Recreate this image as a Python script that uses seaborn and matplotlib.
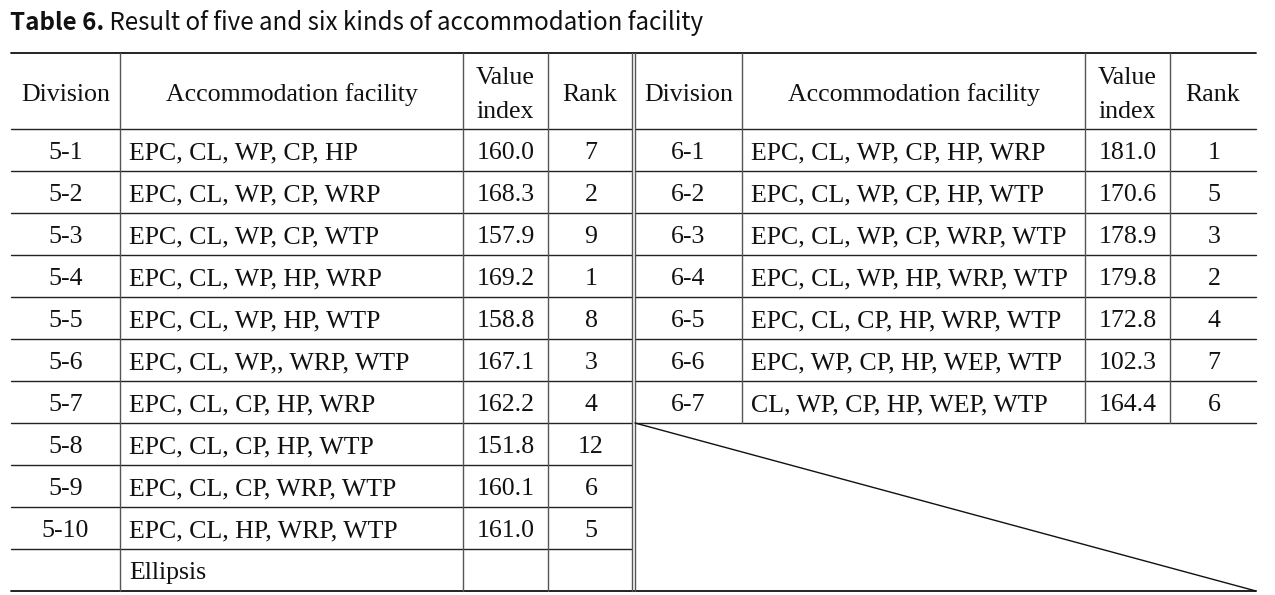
import matplotlib
matplotlib.use("Agg")
import matplotlib.pyplot as plt
import seaborn as sns

# Datos de la tabla (cinco tipos de instalaciones)
divisiones_5 = ["5-1", "5-2", "5-3", "5-4", "5-5", "5-6", "5-7", "5-8", "5-9", "5-10"]
instalaciones_5 = [
    "EPC, CL, WP, CP, HP",
    "EPC, CL, WP, CP, WRP",
    "EPC, CL, WP, CP, WTP",
    "EPC, CL, WP, HP, WRP",
    "EPC, CL, WP, HP, WTP",
    "EPC, CL, WP,, WRP, WTP",
    "EPC, CL, CP, HP, WRP",
    "EPC, CL, CP, HP, WTP",
    "EPC, CL, CP, WRP, WTP",
    "EPC, CL, HP, WRP, WTP",
]
valores_5 = [160.0, 168.3, 157.9, 169.2, 158.8, 167.1, 162.2, 151.8, 160.1, 161.0]
rangos_5 = [7, 2, 9, 1, 8, 3, 4, 12, 6, 5]
fila_final_5 = "Ellipsis"

# Datos de la tabla (seis tipos de instalaciones)
divisiones_6 = ["6-1", "6-2", "6-3", "6-4", "6-5", "6-6", "6-7"]
instalaciones_6 = [
    "EPC, CL, WP, CP, HP, WRP",
    "EPC, CL, WP, CP, HP, WTP",
    "EPC, CL, WP, CP, WRP, WTP",
    "EPC, CL, WP, HP, WRP, WTP",
    "EPC, CL, CP, HP, WRP, WTP",
    "EPC, WP, CP, HP, WEP, WTP",
    "CL, WP, CP, HP, WEP, WTP",
]
valores_6 = [181.0, 170.6, 178.9, 179.8, 172.8, 102.3, 164.4]
rangos_6 = [1, 5, 3, 2, 4, 7, 6]

encabezados = ["Division", "Accommodation facility", "Value\nindex", "Rank"]
titulo_negrita = "Table 6."
titulo_resto = " Result of five and six kinds of accommodation facility"

sns.set_theme(style="white")
plt.rcParams["font.family"] = ["Liberation Serif", "DejaVu Serif"]

fig = plt.figure(figsize=(12.75, 5.95), dpi=100)
ax = fig.add_axes([0, 0, 1, 1])
ax.set_xlim(0, 1275)
ax.set_ylim(595, 0)
ax.axis("off")

# Geometría de la tabla en píxeles
bordes_izq = [11, 120, 463, 548, 632]
bordes_der = [635, 742, 1085, 1170, 1256]
arriba = 53
fin_cabecera = 129
alto_fila = 42
base_fila = 30  # distancia de la línea superior de la fila a la línea base del texto
n_filas_izq = len(divisiones_5) + 1
abajo = fin_cabecera + alto_fila * n_filas_izq
fs = 18.6
col_texto = "#111111"
col_linea_h = "#222222"
col_linea_v = "#555555"

# Líneas superior e inferior
ax.plot([bordes_izq[0], bordes_der[-1]], [arriba, arriba], color="#111111", lw=1.3)
ax.plot([bordes_izq[0], bordes_der[-1]], [abajo, abajo], color="#111111", lw=1.3)

# Líneas horizontales de cada bloque
for i in range(n_filas_izq):
    y = fin_cabecera + alto_fila * i
    ax.plot([bordes_izq[0], bordes_izq[-1]], [y, y], color=col_linea_h, lw=1)
y_fin_6 = fin_cabecera + alto_fila * len(divisiones_6)
for i in range(len(divisiones_6) + 1):
    y = fin_cabecera + alto_fila * i
    ax.plot([bordes_der[0], bordes_der[-1]], [y, y], color=col_linea_h, lw=1)

# Líneas verticales
for x in bordes_izq[1:]:
    ax.plot([x, x], [arriba, abajo], color=col_linea_v, lw=1)
ax.plot([bordes_der[0], bordes_der[0]], [arriba, abajo], color=col_linea_v, lw=1)
for x in bordes_der[1:-1]:
    ax.plot([x, x], [arriba, y_fin_6], color=col_linea_v, lw=1)

# Diagonal del área vacía
ax.plot([bordes_der[0], bordes_der[-1]], [y_fin_6, abajo], color="#111111", lw=1)

# Cabeceras (una o dos líneas, alineadas por la línea base)
base_cab = (arriba + fin_cabecera) / 2 + 10
salto = 33
for bordes in (bordes_izq, bordes_der):
    for j, texto in enumerate(encabezados):
        xc = (bordes[j] + bordes[j + 1]) / 2
        lineas = texto.split("\n")
        y0 = base_cab - salto * (len(lineas) - 1) / 2
        for k, linea in enumerate(lineas):
            ax.text(xc, y0 + salto * k, linea, ha="center", va="baseline",
                    fontsize=fs, color=col_texto)


def escribir_bloque(bordes, divisiones, instalaciones, valores, rangos):
    for i in range(len(divisiones)):
        yb = fin_cabecera + alto_fila * i + base_fila
        ax.text((bordes[0] + bordes[1]) / 2, yb, divisiones[i], ha="center",
                va="baseline", fontsize=fs, color=col_texto)
        ax.text(bordes[1] + 9, yb, instalaciones[i], ha="left", va="baseline",
                fontsize=fs, color=col_texto)
        ax.text((bordes[2] + bordes[3]) / 2, yb, f"{valores[i]:.1f}", ha="center",
                va="baseline", fontsize=fs, color=col_texto)
        ax.text((bordes[3] + bordes[4]) / 2 + 1, yb, str(rangos[i]), ha="center",
                va="baseline", fontsize=fs, color=col_texto)


escribir_bloque(bordes_izq, divisiones_5, instalaciones_5, valores_5, rangos_5)
escribir_bloque(bordes_der, divisiones_6, instalaciones_6, valores_6, rangos_6)
ax.text(bordes_izq[1] + 9, fin_cabecera + alto_fila * (n_filas_izq - 1) + base_fila,
        fila_final_5, ha="left", va="baseline", fontsize=fs, color=col_texto)

# Título
fuente_titulo = ["Noto Sans CJK KR", "DejaVu Sans"]
t1 = ax.text(10, 23, titulo_negrita, ha="left", va="center", fontsize=17.4,
             fontweight="bold", family=fuente_titulo, color=col_texto)
fig.canvas.draw()
bb = t1.get_window_extent()
x_fin = ax.transData.inverted().transform((bb.x1, bb.y0))[0]
ax.text(x_fin, 23, titulo_resto, ha="left", va="center", fontsize=17.4,
        family=fuente_titulo, color=col_texto)

plt.savefig("out.png", dpi=100)
plt.close()
